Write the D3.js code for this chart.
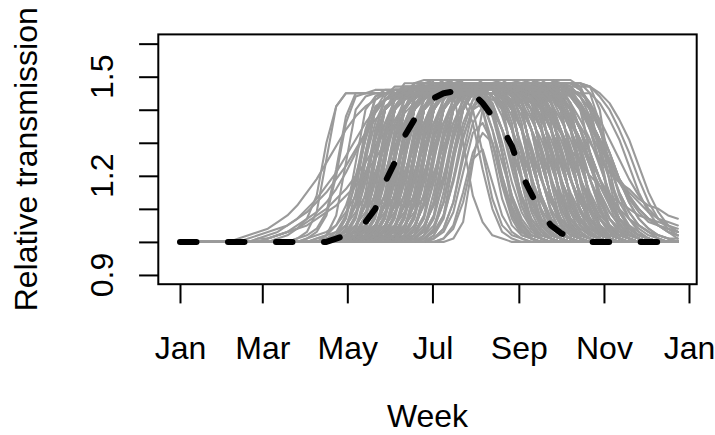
<!DOCTYPE html>
<html><head><meta charset="utf-8">
<script src="https://cdn.jsdelivr.net/npm/d3@7"></script>
<style>
html,body{margin:0;padding:0;background:#fff;}
svg{display:block;}
text{font-family:"Liberation Sans",Arial,Helvetica,sans-serif;}
</style></head><body>
<svg id="chart" width="715" height="435"></svg>
<script>
// ---------------- data ----------------
const weeks = [1,2,3,4,5,6,7,8,9,10,11,12,13,14,15,16,17,18,19,20,21,22,23,24,25,26,
               27,28,29,30,31,32,33,34,35,36,37,38,39,40,41,42,43,44,45,46,47,48,49,50,51,52];
const monthLabels = ["Jan","Mar","May","Jul","Sep","Nov","Jan"];
const monthTickWeeks = [1, 9.43, 18.14, 26.86, 35.71, 44.43, 53.14];
const yTickValues = [0.9,1.0,1.1,1.2,1.3,1.4,1.5,1.6];
const yLabelValues = [0.9,1.2,1.5];
const xLabel = "Week";
const yLabel = "Relative transmission";

// dashed reference curve: percent above 1, weeks 1..52
const refCurvePct = [0,0,0,0,0,0,0,0,0,0,0,0,0,
  0,0,0,1,2,3,6,10,18,24,32,37,41,
  43.5,45,45.5,45.5,45,42,38,34.5,29,20.5,14.5,9,5,
  2.7,1.2,0.4,0,0,0,0,0,0,0,0,0,0];

// grey sample curves: percent above 1, weeks 1-13 | 14-26 | 27-39 | 40-52
const greyCurvesPct = [
"0 0 0 0 0 0 1 2 3 4 6 8 11|15 19 24 29 34 38 41 43 45 45 45 46 46|46 46 46 46 46 46 46 46 46 46 46 46 45|44 40 34 27 19 12 7 4 2 1 0 0 0",
"0 0 0 0 0 0 0 1 2 3 4 5 7|9 12 15 19 23 28 33 37 40 43 44 45 46|46 46 46 46 46 46 46 44 42 34 24 14 7|3 1 0 0 0 0 0 0 0 0 0 0 0",
"0 0 0 0 0 0 0 0 1 2 3 5 7|10 13 17 21 26 31 36 40 43 45 46 46 47|47 47 47 47 47 47 47 47 47 47 47 47 46|44 40 35 30 25 21 18 16 13 11 10 8 7",
"0 0 0 0 0 0 0 0 0 0 1 2 4|7 14 30 41 45 45 45 45 45 45 46 46 46|46 46 46 46 46 46 46 46 46 45 43 38 29|19 11 6 3 1 0 0 0 0 0 0 0 0",
"0 0 0 0 0 0 0 0 0 0 0 0 1|3 9 25 41 45 45 45 46 46 46 46 47 47|47 47 47 47 47 47 47 47 45 40 27 13 5|2 1 0 0 0 0 0 0 0 0 0 0 0",
"0 0 0 0 0 0 0 0 0 0 0 0 0|1 3 8 20 36 44 45 45 45 45 46 46 46|46 46 46 46 46 44 40 30 18 9 4 2 1|0 0 0 0 0 0 0 0 0 0 0 0 0",
"0 0 0 0 0 0 0 0 0 1 2 3 4|6 8 10 13 16 20 24 29 33 37 41 44 46|47 47 47 47 47 47 47 47 47 47 47 47 47|46 45 42 37 31 25 19 14 10 7 5 3 2",
"0 0 0 0 0 0 0 0 1 1 2 3 5|7 9 12 16 21 27 33 39 43 45 46 46 46|46 46 46 46 46 46 46 46 46 46 45 43 39|33 26 19 13 8 5 3 2 1 0 0 0 0",
"0 0 0 0 0 0 0 0 0 1 2 3 4|5 7 9 11 14 17 21 25 30 35 39 42 44|45 46 46 46 46 46 46 46 46 46 46 45 44|41 36 30 23 17 11 7 4 2 1 0 0 0",
"0 0 0 0 0 0 0 0 0 0 0 0 1|2 4 9 22 38 45 45 45 45 46 46 46 46|46 46 46 46 46 46 46 46 46 46 46 44 40|27 13 5 2 1 0 0 0 0 0 0 0 0",
"0 0 0 0 0 0 0 0 0 0 0 0 0|0 1 2 5 11 20 31 40 43 46 46 46 46|46 46 46 46 46 46 46 46 45 44 40 34 27|19 12 7 4 2 1 0 0 0 0 0 0 0",
"0 0 0 0 0 0 0 0 0 0 0 0 0|0 0 0 1 4 12 27 40 43 45 45 45 45|45 45 45 45 45 43 40 27 13 5 2 1 0|0 0 0 0 0 0 0 0 0 0 0 0 0",
"0 0 0 0 0 0 0 0 0 0 0 0 0|1 2 3 5 9 14 21 29 36 41 45 47 47|47 47 47 47 47 47 47 47 47 47 47 45 42|34 24 14 7 3 1 0 0 0 0 0 0 0",
"0 0 0 0 0 0 0 0 0 0 0 0 0|0 0 1 2 5 11 20 31 40 44 47 47 47|47 47 47 47 47 47 47 45 40 27 13 5 2|1 0 0 0 0 0 0 0 0 0 0 0 0",
"0 0 0 0 0 0 0 0 0 0 0 0 0|0 0 0 0 1 4 12 27 40 44 46 46 46|46 46 46 46 45 44 40 34 27 19 12 7 4|2 1 0 0 0 0 0 0 0 0 0 0 0",
"0 0 0 0 0 0 0 0 0 0 0 0 0|0 0 0 1 2 5 11 20 31 40 45 48 48|48 48 48 48 48 48 48 48 48 48 46 42 34|24 14 7 3 1 0 0 0 0 0 0 0 0",
"0 0 0 0 0 0 0 0 0 0 0 0 0|0 1 2 3 5 9 14 21 29 36 41 44 46|46 46 46 44 40 27 13 5 2 1 0 0 0|0 0 0 0 0 0 0 0 0 0 0 0 0",
"0 0 0 0 0 0 0 0 0 0 0 0 0|0 0 0 0 0 1 4 12 27 40 45 47 47|47 47 47 47 47 47 47 47 45 42 34 24 14|7 3 1 0 0 0 0 0 0 0 0 0 0",
"0 0 0 0 0 0 0 0 0 0 0 0 0|0 0 0 0 1 2 5 11 20 31 40 44 47|47 47 47 47 47 47 47 47 47 47 47 47 45|40 27 13 5 2 1 0 0 0 0 0 0 0",
"0 0 0 0 0 0 0 0 0 0 0 0 0|0 0 1 2 3 5 9 14 21 29 36 41 46|48 48 48 48 48 48 47 44 40 34 27 19 12|7 4 2 1 0 0 0 0 0 0 0 0 0",
"0 0 0 0 0 0 0 0 0 0 0 0 0|0 0 0 0 0 0 1 4 12 27 40 46 48|48 48 48 48 48 48 48 48 48 46 40 27 13|5 2 1 0 0 0 0 0 0 0 0 0 0",
"0 0 0 0 0 0 0 0 0 0 0 0 0|0 0 0 0 0 1 2 5 11 20 31 40 45|48 48 48 48 48 46 42 34 24 14 7 3 1|0 0 0 0 0 0 0 0 0 0 0 0 0",
"0 0 0 0 0 0 0 0 0 0 0 0 0|0 0 0 1 2 3 5 9 14 21 29 36 41|45 47 47 47 47 47 47 47 47 47 45 40 27|13 5 2 1 0 0 0 0 0 0 0 0 0",
"0 0 0 0 0 0 0 0 0 0 0 0 0|0 0 0 0 0 0 0 1 4 12 27 40 45|47 47 47 47 47 47 47 46 44 40 34 27 19|12 7 4 2 1 0 0 0 0 0 0 0 0",
"0 0 0 0 0 0 0 0 0 0 0 0 0|0 0 0 0 0 0 1 2 5 11 20 31 40|46 49 49 49 49 49 49 49 47 40 27 13 5|2 1 0 0 0 0 0 0 0 0 0 0 0",
"0 0 0 0 0 0 0 0 0 0 0 0 0|0 0 0 0 0 0 0 0 1 4 12 27 40|46 48 48 48 48 48 48 48 48 48 48 46 42|34 24 14 7 3 1 0 0 0 0 0 0 0",
"0 0 0 0 0 0 0 0 0 0 0 0 0|0 0 0 0 1 2 3 5 9 14 21 29 36|41 46 48 48 46 42 34 24 14 7 3 1 0|0 0 0 0 0 0 0 0 0 0 0 0 0",
"0 0 0 0 0 0 0 0 0 0 0 0 0|0 0 0 0 0 0 0 1 2 5 11 20 31|40 45 48 48 48 48 48 48 48 47 44 40 34|27 19 12 7 4 2 1 0 0 0 0 0 0",
"0 0 0 0 0 0 0 0 0 0 0 0 0|0 0 0 0 0 0 0 0 0 1 4 12 27|40 46 48 48 48 48 48 46 40 27 13 5 2|1 0 0 0 0 0 0 0 0 0 0 0 0",
"0 0 0 0 0 0 0 0 0 0 0 0 0|0 0 0 0 0 0 0 0 1 2 5 11 20|31 40 46 49 49 49 49 49 49 49 49 49 49|47 42 34 24 14 7 3 1 0 0 0 0 0",
"0 0 0 0 0 0 0 0 0 0 0 0 0|0 0 0 0 0 0 0 0 0 0 1 4 12|27 40 45 47 47 47 47 47 46 44 40 34 27|19 12 7 4 2 1 0 0 0 0 0 0 0",
"0 0 0 0 0 0 0 0 0 0 0 0 0|0 0 0 0 0 0 1 2 3 5 9 14 21|29 36 41 46 48 48 48 48 48 48 48 46 40|27 13 5 2 1 0 0 0 0 0 0 0 0",
"0 0 0 0 0 0 0 0 0 0 0 0 0|0 0 0 0 0 0 0 0 0 0 0 1 4|12 27 40 44 46 44 40 27 13 5 2 1 0|0 0 0 0 0 0 0 0 0 0 0 0 0",
"0 0 0 0 0 0 0 0 0 0 0 0 0|0 0 0 0 0 0 0 0 0 1 2 5 11|20 31 40 45 48 48 48 48 48 48 48 48 48|48 46 42 34 24 14 7 3 1 0 0 0 0",
"0 0 0 0 0 0 0 0 0 0 0 0 0|0 0 0 0 0 0 0 0 0 0 0 1 4|12 27 40 46 48 48 48 48 48 48 47 44 40|34 27 19 12 7 4 2 1 0 0 0 0 0",
"0 0 0 0 0 0 0 0 0 0 0 0 0|0 0 0 0 0 0 1 4 12 27 40 44 46|46 46 46 46 46 46 44 42 34 24 14 7 3|1 0 0 0 0 0 0 0 0 0 0 0 0",
"0 0 0 0 0 0 0 0 0 0 0 0 0|0 0 0 0 0 1 2 5 11 20 31 40 44|47 47 47 47 47 47 47 47 47 47 47 47 47|45 40 27 13 5 2 1 0 0 0 0 0 0",
"0 0 0 0 0 0 0 0 0 0 0 0 0|0 0 0 0 1 2 3 5 9 14 21 29 36|41 45 47 47 47 47 47 47 47 47 47 46 44|40 34 27 19 12 7 4 2 1 0 0 0 0",
"0 0 0 0 0 0 0 0 0 0 0 0 0|0 0 0 0 0 0 0 1 4 12 27 40 46|48 48 48 48 48 48 46 40 27 13 5 2 1|0 0 0 0 0 0 0 0 0 0 0 0 0",
"0 0 0 0 0 0 0 0 0 0 0 0 0|0 0 0 0 0 0 1 2 5 11 20 31 40|45 48 48 48 48 47 44 40 34 27 19 12 7|4 2 1 0 0 0 0 0 0 0 0 0 0",
"0 0 0 0 0 0 0 0 0 0 0 0 0|0 0 0 0 0 0 0 0 1 4 12 27 40|45 47 47 47 47 47 47 47 47 45 40 27 13|5 2 1 0 0 0 0 0 0 0 0 0 0",
"0 0 0 0 0 0 0 0 0 0 0 0 0|0 0 0 0 0 1 2 3 5 9 14 21 29|36 41 46 48 48 48 48 48 46 42 34 24 14|7 3 1 0 0 0 0 0 0 0 0 0 0",
"0 0 0 0 0 0 0 0 0 0 0 0 0|0 0 0 0 0 0 0 1 2 5 11 20 31|40 44 47 47 45 40 27 13 5 2 1 0 0|0 0 0 0 0 0 0 0 0 0 0 0 0",
"0 0 0 0 0 0 0 0 0 0 0 0 0|0 0 0 0 0 0 0 0 0 1 4 12 27|40 46 48 48 48 48 48 48 48 48 46 42 34|24 14 7 3 1 0 0 0 0 0 0 0 0",
"0 0 0 0 0 0 0 0 0 0 0 0 0|0 0 0 0 0 0 0 0 0 0 1 4 12|27 40 46 48 48 48 48 48 48 48 48 48 46|40 27 13 5 2 1 0 0 0 0 0 0 0",
"0 0 0 0 0 0 0 0 0 0 0 0 0|0 0 0 0 0 0 0 0 1 2 5 11 20|31 40 44 47 47 47 47 46 44 40 34 27 19|12 7 4 2 1 0 0 0 0 0 0 0 0",
"0 0 0 0 0 0 0 0 0 0 0 0 0|0 0 0 0 0 0 0 0 0 0 0 0 1|4 12 27 40 45 47 47 47 47 45 42 34 24|14 7 3 1 0 0 0 0 0 0 0 0 0",
"0 0 0 0 0 0 0 0 0 0 0 0 0|0 0 0 0 0 0 0 1 2 3 5 9 14|21 29 36 41 47 49 49 49 49 49 49 49 49|49 49 47 40 27 13 5 2 1 0 0 0 0",
"0 0 0 0 0 0 0 0 0 0 0 0 0|0 0 0 0 0 0 0 0 0 0 1 2 5|11 20 31 40 45 48 48 48 46 40 27 13 5|2 1 0 0 0 0 0 0 0 0 0 0 0",
"0 0 0 0 0 0 0 0 0 0 0 0 0|0 0 0 0 0 1 4 12 27 40 44 46 46|46 46 46 46 46 46 46 46 46 46 46 46 45|44 40 34 27 19 12 7 4 2 1 0 0 0",
"0 0 0 0 0 0 0 0 0 0 0 0 0|0 0 0 0 1 2 5 11 20 31 40 44 47|47 47 47 47 47 47 47 47 47 47 47 47 47|47 45 42 37 31 25 19 14 10 7 5 3 2",
"0 0 0 0 0 0 0 0 0 0 0 0 0|0 0 0 0 0 0 0 0 1 4 12 27 40|46 48 48 48 48 48 48 48 48 48 48 48 45|42 37 31 25 19 14 10 7 5 3 2 1 1",
"0 0 0 0 0 0 0 0 0 0 0 0 0|0 0 0 0 0 0 1 4 12 27 40 45 47|47 47 47 47 47 47 47 47 47 47 47 47 47|47 47 47 47 40 22 9 4 2 1 0 0 0",
"0 0 0 0 0 0 0 0 0 0 0 0 0|0 0 0 1 2 3 5 9 14 21 29 36 41|44 46 46 46 46 46 46 46 46 46 44 41 37|33 28 24 20 17 14 12 10 8 7 6 5 4",
"0 0 0 0 0 0 0 0 0 0 0 0 0|0 0 0 0 0 0 0 1 2 5 11 20 31|40 45 48 48 48 48 48 48 48 48 48 48 48|48 48 46 42 35 27 19 13 9 6 5 4 3",
"0 0 0 0 0 0 0 0 0 0 0 0 0|0 0 0 0 0 0 0 0 0 1 4 12 27|40 45 47 47 47 47 47 47 47 47 47 47 47|47 45 41 36 30 24 19 15 12 9 7 6 5",
"0 0 0 0 0 0 0 0 0 0 0 0 0|0 0 0 0 1 4 12 27 40 44 46 46 46|46 46 46 46 46 46 46 46 46 46 44 40 27|13 5 2 1 0 0 0 0 0 0 0 0 0",
"0 0 0 0 0 0 0 0 0 0 0 0 0|0 0 0 0 0 1 2 5 11 20 31 40 43|46 46 46 46 46 46 46 44 42 34 24 14 7|3 1 0 0 0 0 0 0 0 0 0 0 0",
"0 0 0 0 0 0 0 0 0 0 0 0 0|0 0 0 0 0 0 0 0 1 4 12 27 40|47 49 49 49 49 49 49 49 49 48 44 40 34|27 19 12 7 4 2 1 0 0 0 0 0 0",
"0 0 0 0 0 0 0 0 0 0 0 0 0|0 0 0 0 0 1 2 3 5 9 14 21 29|36 41 45 47 47 47 47 45 40 27 13 5 2|1 0 0 0 0 0 0 0 0 0 0 0 0",
"0 0 0 0 0 0 0 0 0 0 0 0 0|0 0 0 0 0 0 0 1 4 12 27 40 45|47 47 47 47 47 47 47 47 47 47 47 47 45|42 34 24 14 7 3 1 0 0 0 0 0 0",
"0 0 0 0 0 0 0 0 0 0 0 0 0|0 0 0 0 0 0 1 2 5 11 20 31 40|44 47 47 47 47 47 47 47 47 47 47 45 40|27 13 5 2 1 0 0 0 0 0 0 0 0",
"0 0 0 0 0 0 0 0 0 0 0 0 0|0 0 0 0 0 0 0 0 0 0 1 4 12|27 40 46 48 48 48 46 42 34 24 14 7 3|1 0 0 0 0 0 0 0 0 0 0 0 0",
"0 0 0 0 0 0 0 0 0 0 0 0 0|0 0 0 0 0 0 1 2 3 5 9 14 21|29 36 41 46 48 48 48 48 47 44 40 34 27|19 12 7 4 2 1 0 0 0 0 0 0 0",
"0 0 0 0 0 0 0 0 0 0 0 0 0|0 0 0 0 0 0 0 0 0 0 0 1 4|12 27 40 45 47 47 47 47 47 47 47 47 47|45 40 27 13 5 2 1 0 0 0 0 0 0",
"0 0 0 0 0 0 0 0 0 0 0 0 0|0 0 1 2 5 11 20 31 40 43 46 46 46|46 46 46 46 46 46 46 46 46 44 42 34 24|14 7 3 1 0 0 0 0 0 0 0 0 0",
"0 0 0 0 0 0 0 0 0 0 0 0 0|0 0 0 0 0 0 0 0 0 0 0 0 0|0 0 1 6 24 40 45 46 46 46 46 46 44|40 27 13 5 2 1 0 0 0 0 0 0 0",
"0 0 0 0 0 0 0 0 0 0 0 0 0|0 0 0 0 0 0 0 0 0 0 0 0 0|0 1 4 12 25 28 18 8 3 1 0 0 0|0 0 0 0 0 0 0 0 0 0 0 0 0",
"0 0 0 0 0 0 0 0 0 0 0 0 0|0 0 0 0 0 0 0 0 0 0 0 0 0|1 3 9 21 33 36 30 18 8 3 1 0 0|0 0 0 0 0 0 0 0 0 0 0 0 0",
"0 0 0 0 0 0 0 0 0 0 0 0 0|0 0 0 0 0 0 0 0 0 0 0 0 1|3 8 19 32 40 42 38 27 14 6 2 1 0|0 0 0 0 0 0 0 0 0 0 0 0 0",
"0 0 0 0 0 0 0 0 0 0 0 0 0|0 0 0 0 0 1 4 12 27 40 44 46 46|46 46 45 30 14 6 2 1 0 0 0 0 0|0 0 0 0 0 0 0 0 0 0 0 0 0",
"0 0 0 0 0 0 0 0 0 0 0 0 0|0 0 0 1 2 5 11 20 31 40 43 45 45|45 45 45 43 36 22 10 3 1 0 0 0 0|0 0 0 0 0 0 0 0 0 0 0 0 0",
"0 0 0 0 0 0 0 0 0 0 0 0 0|0 0 0 0 2 8 24 40 45 46 46 46 46|46 46 46 46 46 46 46 46 44 40 27 13 5|2 1 0 0 0 0 0 0 0 0 0 0 0",
"0 0 0 0 0 0 0 0 0 0 0 0 0|0 0 0 0 0 1 4 12 27 40 45 47 47|47 47 47 47 47 47 47 47 47 47 45 42 34|24 14 7 3 1 0 0 0 0 0 0 0 0",
"0 0 0 0 0 0 0 0 0 0 0 0 0|0 0 0 0 1 3 8 18 31 41 45 47 47|47 47 47 47 47 47 47 47 47 46 44 40 34|27 19 12 7 4 2 1 0 0 0 0 0 0",
"0 0 0 0 0 0 0 0 0 0 0 0 0|0 0 0 0 0 0 2 8 24 40 46 47 47|47 47 47 47 47 47 47 44 36 18 6 2 1|0 0 0 0 0 0 0 0 0 0 0 0 0",
"0 0 0 0 0 0 0 0 0 0 0 0 0|0 0 0 0 0 0 1 4 12 27 40 46 48|48 48 48 48 48 48 48 48 48 48 48 47 44|40 34 27 19 12 7 4 2 1 0 0 0 0",
"0 0 0 0 0 0 0 0 0 0 0 0 0|0 0 0 0 0 1 3 8 18 31 41 44 46|46 46 46 46 46 46 44 40 27 13 5 2 1|0 0 0 0 0 0 0 0 0 0 0 0 0",
"0 0 0 0 0 0 0 0 0 0 0 0 0|0 0 0 0 0 0 0 2 8 24 40 47 48|48 48 48 48 48 48 48 48 48 46 42 34 24|14 7 3 1 0 0 0 0 0 0 0 0 0",
"0 0 0 0 0 0 0 0 0 0 0 0 0|0 0 0 0 0 0 0 1 4 12 27 40 45|47 47 47 47 47 47 47 47 47 47 47 47 47|45 40 27 13 5 2 1 0 0 0 0 0 0",
"0 0 0 0 0 0 0 0 0 0 0 0 0|0 0 0 0 0 0 1 3 8 18 31 41 46|48 48 48 48 48 48 48 46 42 34 24 14 7|3 1 0 0 0 0 0 0 0 0 0 0 0",
"0 0 0 0 0 0 0 0 0 0 0 0 0|0 0 0 0 0 0 0 0 2 8 24 40 46|47 47 47 47 47 47 47 47 47 47 46 44 40|34 27 19 12 7 4 2 1 0 0 0 0 0",
"0 0 0 0 0 0 0 0 0 0 0 0 0|0 0 0 0 0 0 0 0 1 4 12 27 40|46 48 48 48 48 48 48 48 48 48 48 45 36|18 6 2 1 0 0 0 0 0 0 0 0 0",
"0 0 0 0 0 0 0 0 0 0 0 0 0|0 0 0 0 0 0 0 1 3 8 18 31 41|45 47 47 47 47 47 47 47 45 40 27 13 5|2 1 0 0 0 0 0 0 0 0 0 0 0",
"0 0 0 0 0 0 0 0 0 0 0 0 0|0 0 0 0 0 0 0 0 0 2 8 24 40|47 48 48 48 48 48 48 48 48 48 48 48 46|42 34 24 14 7 3 1 0 0 0 0 0 0",
"0 0 0 0 0 0 0 0 0 0 0 0 0|0 0 0 0 0 0 0 0 0 1 4 12 27|40 45 47 47 47 47 46 44 40 34 27 19 12|7 4 2 1 0 0 0 0 0 0 0 0 0",
"0 0 0 0 0 0 0 0 0 0 0 0 0|0 0 0 0 0 0 0 0 1 3 8 18 31|41 46 48 48 48 48 48 48 48 48 48 48 48|48 46 40 27 13 5 2 1 0 0 0 0 0",
"0 0 0 0 0 0 0 0 0 0 0 0 0|0 0 0 0 0 0 0 0 0 0 2 8 24|40 46 47 47 47 47 47 47 47 45 40 27 13|5 2 1 0 0 0 0 0 0 0 0 0 0",
"0 0 0 0 0 0 0 0 0 0 0 0 0|0 0 0 0 0 0 0 0 0 0 1 4 12|27 40 47 49 49 49 49 49 49 49 49 47 42|34 24 14 7 3 1 0 0 0 0 0 0 0",
"0 0 0 0 0 0 0 0 0 0 0 0 0|0 0 0 0 0 0 0 0 0 1 3 8 18|31 41 45 47 47 47 47 47 47 47 47 47 46|44 40 34 27 19 12 7 4 2 1 0 0 0",
"0 0 0 0 0 0 0 0 0 0 0 0 0|0 0 0 0 0 0 0 0 0 0 0 2 8|24 40 47 48 48 48 48 48 45 36 18 6 2|1 0 0 0 0 0 0 0 0 0 0 0 0",
"0 0 0 0 0 0 0 0 0 0 0 0 0|0 0 0 0 0 0 0 0 0 0 0 1 4|12 27 40 46 48 48 48 48 48 48 48 48 48|48 48 46 42 34 24 14 7 3 1 0 0 0",
"0 0 0 0 0 0 0 0 0 0 0 0 0|0 0 0 0 0 0 0 0 0 0 1 3 8|18 31 41 46 48 48 48 48 48 48 46 40 27|13 5 2 1 0 0 0 0 0 0 0 0 0",
"0 0 0 0 0 0 0 0 0 0 0 0 0|0 0 0 0 0 0 0 0 0 0 0 0 2|8 24 40 46 47 47 47 47 47 46 44 40 34|27 19 12 7 4 2 1 0 0 0 0 0 0",
"0 0 0 0 0 0 0 0 0 0 0 0 0|0 0 0 0 0 0 0 0 0 0 0 0 1|4 12 27 40 45 47 47 45 40 27 13 5 2|1 0 0 0 0 0 0 0 0 0 0 0 0",
"0 0 0 0 0 0 0 0 0 0 0 0 0|0 0 0 0 0 0 0 0 0 0 0 0 0|2 8 24 40 47 48 48 48 48 48 48 48 48|46 42 34 24 14 7 3 1 0 0 0 0 0",
"0 0 0 0 0 0 0 0 0 0 0 0 0|0 0 0 1 3 8 18 31 41 43 45 45 45|45 45 45 45 45 45 45 45 43 42 34 24 14|7 3 1 0 0 0 0 0 0 0 0 0 0",
"0 0 0 0 0 0 0 0 0 0 0 0 0|0 0 2 8 24 40 44 45 45 45 45 45 45|45 45 45 45 45 45 45 45 45 45 43 40 27|13 5 2 1 0 0 0 0 0 0 0 0 0",
"0 0 0 0 0 0 0 0 0 0 0 0 0|0 0 0 1 4 12 27 40 43 45 45 45 45|45 45 45 45 45 45 45 45 45 45 45 45 44|44 40 34 27 19 12 7 4 2 1 0 0 0",
"0 0 0 0 0 0 0 0 0 0 0 0 0|0 0 0 0 0 2 8 24 40 45 46 46 46|46 46 46 46 46 46 46 46 46 46 46 46 46|46 44 42 34 24 14 7 3 1 0 0 0 0",
"0 0 0 0 0 0 0 0 0 0 0 0 0|0 0 0 0 0 0 0 0 0 0 0 1 3|8 18 31 41 46 48 48 48 48 48 48 48 48|48 47 44 40 34 27 19 12 7 4 2 1 0",
"0 0 0 0 0 0 0 0 0 0 0 0 0|0 0 0 0 0 0 0 0 0 0 0 0 0|1 4 12 27 40 45 47 47 47 47 47 45 40|27 13 5 2 1 0 0 0 0 0 0 0 0",
"0 0 0 0 0 0 0 0 0 0 0 0 0|0 0 0 0 0 0 2 8 24 40 45 46 46|46 46 46 46 46 46 46 46 46 46 46 46 46|46 46 45 42 37 31 25 19 14 10 7 5 3",
"0 0 0 0 0 0 0 0 0 0 0 0 0|0 0 0 0 0 0 0 0 1 4 12 27 40|45 47 47 47 47 47 47 47 47 47 47 47 47|46 44 40 35 29 23 18 13 10 7 5 4 3",
"0 0 0 0 0 0 0 0 0 0 0 0 0|0 0 0 0 0 0 0 1 3 8 18 31 41|46 48 48 48 48 48 48 48 48 48 48 48 48|48 48 48 45 36 18 6 2 1 0 0 0 0",
"0 0 0 0 0 0 0 0 0 0 0 0 0|0 0 0 0 0 0 0 0 0 0 2 8 24|40 47 48 48 48 48 48 48 48 48 48 48 48|48 48 48 47 44 40 34 27 19 12 7 4 2",
"0 0 0 0 0 0 0 0 0 0 0 0 0|0 0 0 0 1 4 12 27 40 44 46 46 46|46 46 46 46 46 44 42 34 24 14 7 3 1|0 0 0 0 0 0 0 0 0 0 0 0 0",
"0 0 0 0 0 0 0 0 0 0 0 0 0|0 0 0 0 0 0 0 0 0 0 0 0 1|3 8 18 31 41 46 48 48 48 48 46 42 34|24 14 7 3 1 0 0 0 0 0 0 0 0",
"0 0 0 0 0 0 0 0 0 0 0 0 0|0 0 0 0 0 0 0 0 0 0 0 0 0|0 1 5 15 27 33 30 20 10 4 1 0 0|0 0 0 0 0 0 0 0 0 0 0 0 0",
"0 0 0 0 0 0 0 0 0 0 0 0 0|0 0 0 0 0 0 0 0 0 0 0 0 0|1 4 12 25 36 41 41 34 22 11 4 1 0|0 0 0 0 0 0 0 0 0 0 0 0 0",
"0 0 0 0 0 0 0 0 0 0 0 0 0|0 0 0 0 1 2 5 11 20 31 40 44 47|47 47 47 47 47 47 47 47 47 45 40 27 13|5 2 1 0 0 0 0 0 0 0 0 0 0",
"0 0 0 0 0 0 0 0 0 0 0 0 0|0 0 0 0 0 0 1 2 5 11 20 31 40|43 46 46 46 46 46 46 46 46 46 46 46 44|42 34 24 14 7 3 1 0 0 0 0 0 0",
"0 0 0 0 0 0 0 0 0 0 0 0 0|0 0 0 0 0 0 0 2 8 24 40 48 49|49 49 49 49 49 49 49 49 49 49 49 49 47|40 27 13 5 2 1 0 0 0 0 0 0 0",
"0 0 0 0 0 0 0 0 0 0 0 0 0|0 0 0 0 0 0 0 0 0 1 4 12 27|40 47 49 49 49 49 49 49 49 49 49 49 49|48 44 40 34 27 19 12 7 4 2 1 0 0",
"0 0 0 0 0 0 0 0 0 0 0 0 0|0 0 0 0 0 0 1 3 8 18 31 41 45|47 47 47 47 47 47 47 47 47 47 44 36 18|6 2 1 0 0 0 0 0 0 0 0 0 0",
"0 0 0 0 0 0 0 0 0 0 0 0 0|0 0 0 0 0 0 0 0 0 2 8 24 40|44 46 46 46 46 44 40 27 13 5 2 1 0|0 0 0 0 0 0 0 0 0 0 0 0 0",
"0 0 0 0 0 0 0 0 0 0 0 0 0|0 0 0 0 0 0 1 4 12 27 40 45 47|47 47 47 47 47 47 47 47 47 47 47 47 47|47 46 44 40 34 27 19 12 7 4 2 1 0",
"0 0 0 0 0 0 0 0 0 0 0 0 0|0 0 0 2 8 24 40 44 45 45 45 45 45|45 45 45 45 45 45 43 42 34 24 14 7 3|1 0 0 0 0 0 0 0 0 0 0 0 0",
"0 0 0 0 0 0 0 0 0 0 0 0 0|0 0 1 3 8 18 31 41 43 45 45 45 45|45 45 45 45 45 45 45 45 45 45 44 44 40|34 27 19 12 7 4 2 1 0 0 0 0 0",
"0 0 0 0 0 0 0 0 0 0 0 0 0|0 0 0 0 0 0 0 0 0 0 1 4 12|27 40 44 46 46 46 46 46 46 46 46 46 46|43 36 18 6 2 1 0 0 0 0 0 0 0",
"0 0 0 0 0 0 0 0 0 0 0 0 0|0 0 0 0 0 0 0 0 2 8 24 40 47|48 48 48 48 48 48 48 46 40 27 13 5 2|1 0 0 0 0 0 0 0 0 0 0 0 0",
"0 0 0 0 0 0 0 0 0 0 0 0 0|0 0 0 0 0 0 0 1 4 12 27 40 46|48 48 48 48 48 48 48 48 46 42 34 24 14|7 3 1 0 0 0 0 0 0 0 0 0 0",
"0 0 0 0 0 0 0 0 0 0 0 0 0|0 0 0 0 0 2 7 19 34 43 45 46 46|46 46 46 46 46 46 46 45 43 34 20 9 3|1 0 0 0 0 0 0 0 0 0 0 0 0",
"0 0 0 0 0 0 0 0 0 0 0 0 0|0 0 0 0 0 0 4 15 32 44 47 47 47|47 47 47 47 47 47 47 47 47 46 44 38 29|19 10 5 2 1 0 0 0 0 0 0 0 0",
"0 0 0 0 0 0 0 0 0 0 0 0 0|0 0 0 0 0 2 5 12 25 36 43 47 48|48 48 48 48 48 48 48 48 47 45 42 37 31|23 15 9 5 3 1 0 0 0 0 0 0 0",
"0 0 0 0 0 0 0 0 0 0 0 0 0|0 0 0 0 0 0 0 2 7 19 34 43 46|47 47 47 47 47 47 47 47 47 47 46 41 27|11 4 1 0 0 0 0 0 0 0 0 0 0",
"0 0 0 0 0 0 0 0 0 0 0 0 0|0 0 0 0 0 0 0 0 4 15 32 44 48|48 48 48 48 48 48 48 48 48 48 48 47 43|34 20 9 3 1 0 0 0 0 0 0 0 0",
"0 0 0 0 0 0 0 0 0 0 0 0 0|0 0 0 0 0 0 2 5 12 25 36 43 46|47 47 47 47 47 46 44 38 29 19 10 5 2|1 0 0 0 0 0 0 0 0 0 0 0 0",
"0 0 0 0 0 0 0 0 0 0 0 0 0|0 0 0 0 0 0 0 0 0 2 7 19 34|43 47 48 48 48 48 48 48 48 48 48 48 47|45 42 37 31 23 15 9 5 3 1 0 0 0",
"0 0 0 0 0 0 0 0 0 0 0 0 0|0 0 0 0 0 0 0 0 0 0 4 15 32|44 47 47 47 47 47 47 47 46 43 34 20 9|3 1 0 0 0 0 0 0 0 0 0 0 0",
"0 0 0 0 0 0 0 0 0 0 0 0 0|0 0 0 0 0 0 0 0 2 5 12 25 36|43 48 49 49 49 49 49 49 49 49 49 49 49|48 41 27 11 4 1 0 0 0 0 0 0 0",
"0 0 0 0 0 0 0 0 0 0 0 0 0|0 0 0 0 2 7 19 34 43 44 45 45 45|45 45 45 45 45 45 45 45 45 45 45 44 44|38 29 19 10 5 2 1 0 0 0 0 0 0",
"0 0 0 0 0 0 0 0 0 0 0 0 0|0 0 0 0 0 0 0 0 0 0 0 4 15|32 44 48 48 48 48 48 48 48 48 47 44 38|29 19 10 5 2 1 0 0 0 0 0 0 0",
"0 0 0 0 0 0 0 0 0 0 0 0 0|0 0 0 0 0 0 0 0 0 2 5 12 25|36 43 46 47 47 47 46 43 34 20 9 3 1|0 0 0 0 0 0 0 0 0 0 0 0 0",
"0 0 0 0 0 0 0 0 0 0 0 0 0|0 0 0 0 0 0 2 7 19 34 43 45 46|46 46 46 46 46 46 46 46 46 46 46 46 46|45 45 42 37 31 23 15 9 5 3 1 0 0",
"0 0 0 0 0 0 0 0 0 0 0 0 0|0 0 0 0 0 0 0 4 15 32 44 48 48|48 48 48 48 48 48 48 47 41 27 11 4 1|0 0 0 0 0 0 0 0 0 0 0 0 0",
"0 0 0 0 0 0 0 0 0 0 0 0 0|0 0 0 0 0 0 0 0 0 0 2 5 12|25 36 43 47 48 48 48 48 48 48 48 48 48|48 47 44 38 29 19 10 5 2 1 0 0 0",
"0 0 0 0 0 0 0 0 0 0 0 0 0|0 0 0 0 0 0 0 0 0 0 2 7 19|34 43 46 47 47 47 47 47 47 47 46 43 34|20 9 3 1 0 0 0 0 0 0 0 0 0",
"0 0 0 0 0 0 0 0 0 0 0 0 0|0 0 0 0 0 0 0 0 0 4 15 32 44|49 49 49 49 49 49 49 49 49 49 49 48 45|42 37 31 23 15 9 5 3 1 0 0 0 0",
"0 0 0 0 0 0 0 0 0 0 0 0 0|0 0 0 0 0 0 0 2 5 12 25 36 43|45 46 46 46 46 46 46 46 46 45 43 34 20|9 3 1 0 0 0 0 0 0 0 0 0 0",
"0 0 0 0 0 0 0 0 0 0 0 0 0|0 0 0 0 0 0 0 0 0 0 0 0 2|7 19 34 43 47 48 48 48 48 48 48 48 47|44 38 29 19 10 5 2 1 0 0 0 0 0",
"0 0 0 0 0 0 0 0 0 0 0 0 0|0 0 0 0 0 0 0 0 0 0 0 0 4|15 32 44 47 47 47 46 41 27 11 4 1 0|0 0 0 0 0 0 0 0 0 0 0 0 0",
"0 0 0 0 0 0 0 0 0 0 0 0 0|0 0 0 2 7 19 34 43 45 46 46 46 46|46 46 46 46 45 43 34 20 9 3 1 0 0|0 0 0 0 0 0 0 0 0 0 0 0 0",
"0 0 0 0 0 0 0 0 0 0 0 0 0|0 0 0 0 2 5 12 25 36 43 45 46 46|46 46 46 46 46 46 46 46 46 46 46 46 46|46 46 45 45 42 37 31 23 15 9 5 3 1",
"0 0 0 0 0 0 0 0 0 0 0 0 0|0 0 0 0 0 4 15 32 44 47 47 47 47|47 47 47 47 47 47 47 47 47 47 47 47 46|44 38 29 19 10 5 2 1 0 0 0 0 0",
"0 0 0 0 0 0 0 0 0 0 0 0 0|0 0 0 0 0 0 0 0 2 7 19 34 43|47 48 48 48 48 48 48 48 48 48 48 48 48|48 48 47 41 27 11 4 1 0 0 0 0 0",
"0 0 0 0 0 0 0 0 0 0 0 0 0|0 0 0 0 0 0 0 0 0 0 0 2 5|12 25 36 43 46 47 47 47 47 46 45 42 37|31 23 15 9 5 3 1 0 0 0 0 0 0",
"0 0 0 0 0 0 0 0 0 0 0 0 0|0 0 0 0 0 0 0 0 0 0 0 2 7|19 34 43 45 44 40 30 17 7 2 1 0 0|0 0 0 0 0 0 0 0 0 0 0 0 0",
"0 0 0 0 0 0 0 0 0 0 0 0 0|0 0 0 0 0 0 0 0 0 0 0 0 0|4 15 32 44 48 48 48 48 48 48 48 48 48|47 45 42 37 31 23 15 9 5 3 1 0 0",
"0 0 0 0 0 0 0 0 0 0 0 0 0|0 0 0 0 0 0 2 5 12 25 36 43 48|49 49 49 49 49 49 49 49 49 49 48 44 38|29 19 10 5 2 1 0 0 0 0 0 0 0",
"0 0 0 0 0 0 0 0 0 0 0 0 0|0 0 0 0 0 0 0 2 7 19 34 43 46|47 47 47 47 47 47 46 44 38 29 19 10 5|2 1 0 0 0 0 0 0 0 0 0 0 0",
"0 0 0 0 0 0 0 0 0 0 0 0 0|0 0 0 0 4 15 32 44 46 46 46 46 46|46 46 46 46 46 46 46 46 46 46 45 45 42|37 31 23 15 9 5 3 1 0 0 0 0 0",
"0 0 0 0 0 0 0 0 0 0 0 0 0|0 0 0 0 0 0 0 0 0 0 0 0 0|2 7 19 34 43 46 47 47 46 43 34 20 9|3 1 0 0 0 0 0 0 0 0 0 0 0",
"0 0 0 0 0 0 0 0 0 0 0 0 0|0 0 0 0 0 0 0 0 0 0 0 0 2|5 12 25 36 43 47 48 48 48 48 48 48 48|48 47 41 27 11 4 1 0 0 0 0 0 0",
"0 0 0 0 0 0 0 0 0 0 0 0 0|0 0 0 0 0 0 0 0 4 15 32 44 47|47 47 47 47 47 47 47 46 45 42 37 31 23|15 9 5 3 1 0 0 0 0 0 0 0 0",
"0 0 0 0 0 0 0 0 0 0 0 0 0|0 0 0 0 0 2 7 19 34 43 46 47 47|47 47 47 47 47 47 47 47 47 47 47 47 46|43 34 20 9 3 1 0 0 0 0 0 0 0",
"0 0 0 0 0 0 0 0 0 0 0 0 0|0 0 0 0 0 0 0 0 2 5 12 25 36|43 46 47 47 47 47 47 47 46 44 38 29 19|10 5 2 1 0 0 0 0 0 0 0 0 0",
"0 0 0 0 0 0 0 0 0 0 0 0 0|0 0 0 0 0 0 0 0 0 2 7 19 34|43 45 46 46 46 45 41 27 11 4 1 0 0|0 0 0 0 0 0 0 0 0 0 0 0 0",
"0 0 0 0 0 0 0 0 0 0 0 0 0|0 0 0 0 0 0 4 15 32 44 48 48 48|48 48 48 48 48 48 48 48 48 48 48 48 48|48 48 48 47 45 42 37 31 23 15 9 5 3",
"0 0 0 0 0 0 0 0 0 0 0 0 0|0 0 0 0 0 0 0 0 0 0 2 7 19|34 43 48 49 49 49 49 48 44 38 29 19 10|5 2 1 0 0 0 0 0 0 0 0 0 0",
"0 0 0 0 0 0 0 0 0 0 0 0 0|0 0 0 2 5 12 25 36 43 44 45 45 45|45 45 45 45 45 45 45 44 43 34 20 9 3|1 0 0 0 0 0 0 0 0 0 0 0 0",
"0 0 0 0 0 0 0 0 0 0 0 0 0|0 0 0 0 0 0 0 0 0 0 4 15 32|44 48 48 48 48 48 48 48 48 48 48 47 45|42 37 31 23 15 9 5 3 1 0 0 0 0"
];

// ---------------- drawing ----------------
const svg = d3.select("#chart");
const W = 715, H = 435;
const box = {left: 158.3, right: 696.7, top: 34.4, bottom: 284.2};

const x = d3.scaleLinear().domain([-1.222, 53.93]).range([box.left, box.right]);
const y = d3.scaleLinear().domain([0.872, 1.628]).range([box.bottom, box.top]);

const toValues = s => s.split("|").join(" ").trim().split(/\s+/).map(Number).map(p => 1 + p / 100);
const greySeries = greyCurvesPct.map(toValues);
const refSeries = refCurvePct.map(p => 1 + p / 100);

const line = d3.line().x((d, i) => x(weeks[i])).y(d => y(d));

const font = '"Liberation Sans", Arial, Helvetica, sans-serif';
const fs = 32;

svg.append("rect").attr("width", W).attr("height", H).attr("fill", "#fff");

const plot = svg.append("g");
plot.selectAll("path.grey").data(greySeries).join("path")
  .attr("class", "grey")
  .attr("d", line)
  .attr("fill", "none")
  .attr("stroke", "#9a9a9a")
  .attr("stroke-width", 2.1)
  .attr("stroke-linejoin", "round")
  .attr("stroke-linecap", "round");

plot.append("path").datum(refSeries)
  .attr("d", line)
  .attr("fill", "none")
  .attr("stroke", "#000")
  .attr("stroke-width", 6)
  .attr("stroke-dasharray", "16.5,31.5")
  .attr("stroke-linecap", "round")
  .attr("stroke-linejoin", "round");

// box
svg.append("rect")
  .attr("x", box.left).attr("y", box.top)
  .attr("width", box.right - box.left).attr("height", box.bottom - box.top)
  .attr("fill", "none").attr("stroke", "#000").attr("stroke-width", 2);

// x axis
const gx = svg.append("g").attr("transform", `translate(0,${box.bottom})`)
  .call(d3.axisBottom(x).tickValues(monthTickWeeks).tickFormat((d, i) => monthLabels[i])
        .tickSize(19.2).tickSizeOuter(0));
gx.select(".domain").remove();
gx.selectAll(".tick line").attr("stroke", "#000").attr("stroke-width", 2);
gx.selectAll(".tick text")
  .attr("y", 75).attr("dy", 0)
  .attr("fill", "#000")
  .style("font-family", font).style("font-size", fs + "px");

// y axis
const gy = svg.append("g").attr("transform", `translate(${box.left},0)`)
  .call(d3.axisLeft(y).tickValues(yTickValues).tickFormat("").tickSize(19.2).tickSizeOuter(0));
gy.select(".domain").remove();
gy.selectAll(".tick line").attr("stroke", "#000").attr("stroke-width", 2);

svg.append("g").selectAll("text").data(yLabelValues).join("text")
  .attr("transform", d => `translate(113,${y(d)}) rotate(-90)`)
  .attr("text-anchor", "middle")
  .attr("fill", "#000")
  .style("font-family", font).style("font-size", fs + "px")
  .text(d => d3.format(".1f")(d));

// axis titles
svg.append("text")
  .attr("x", (box.left + box.right) / 2).attr("y", 427)
  .attr("text-anchor", "middle").attr("fill", "#000")
  .style("font-family", font).style("font-size", fs + "px")
  .text(xLabel);

svg.append("text")
  .attr("transform", `translate(37,${(box.top + box.bottom) / 2}) rotate(-90)`)
  .attr("text-anchor", "middle").attr("fill", "#000")
  .style("font-family", font).style("font-size", fs + "px")
  .text(yLabel);
</script>
</body></html>
